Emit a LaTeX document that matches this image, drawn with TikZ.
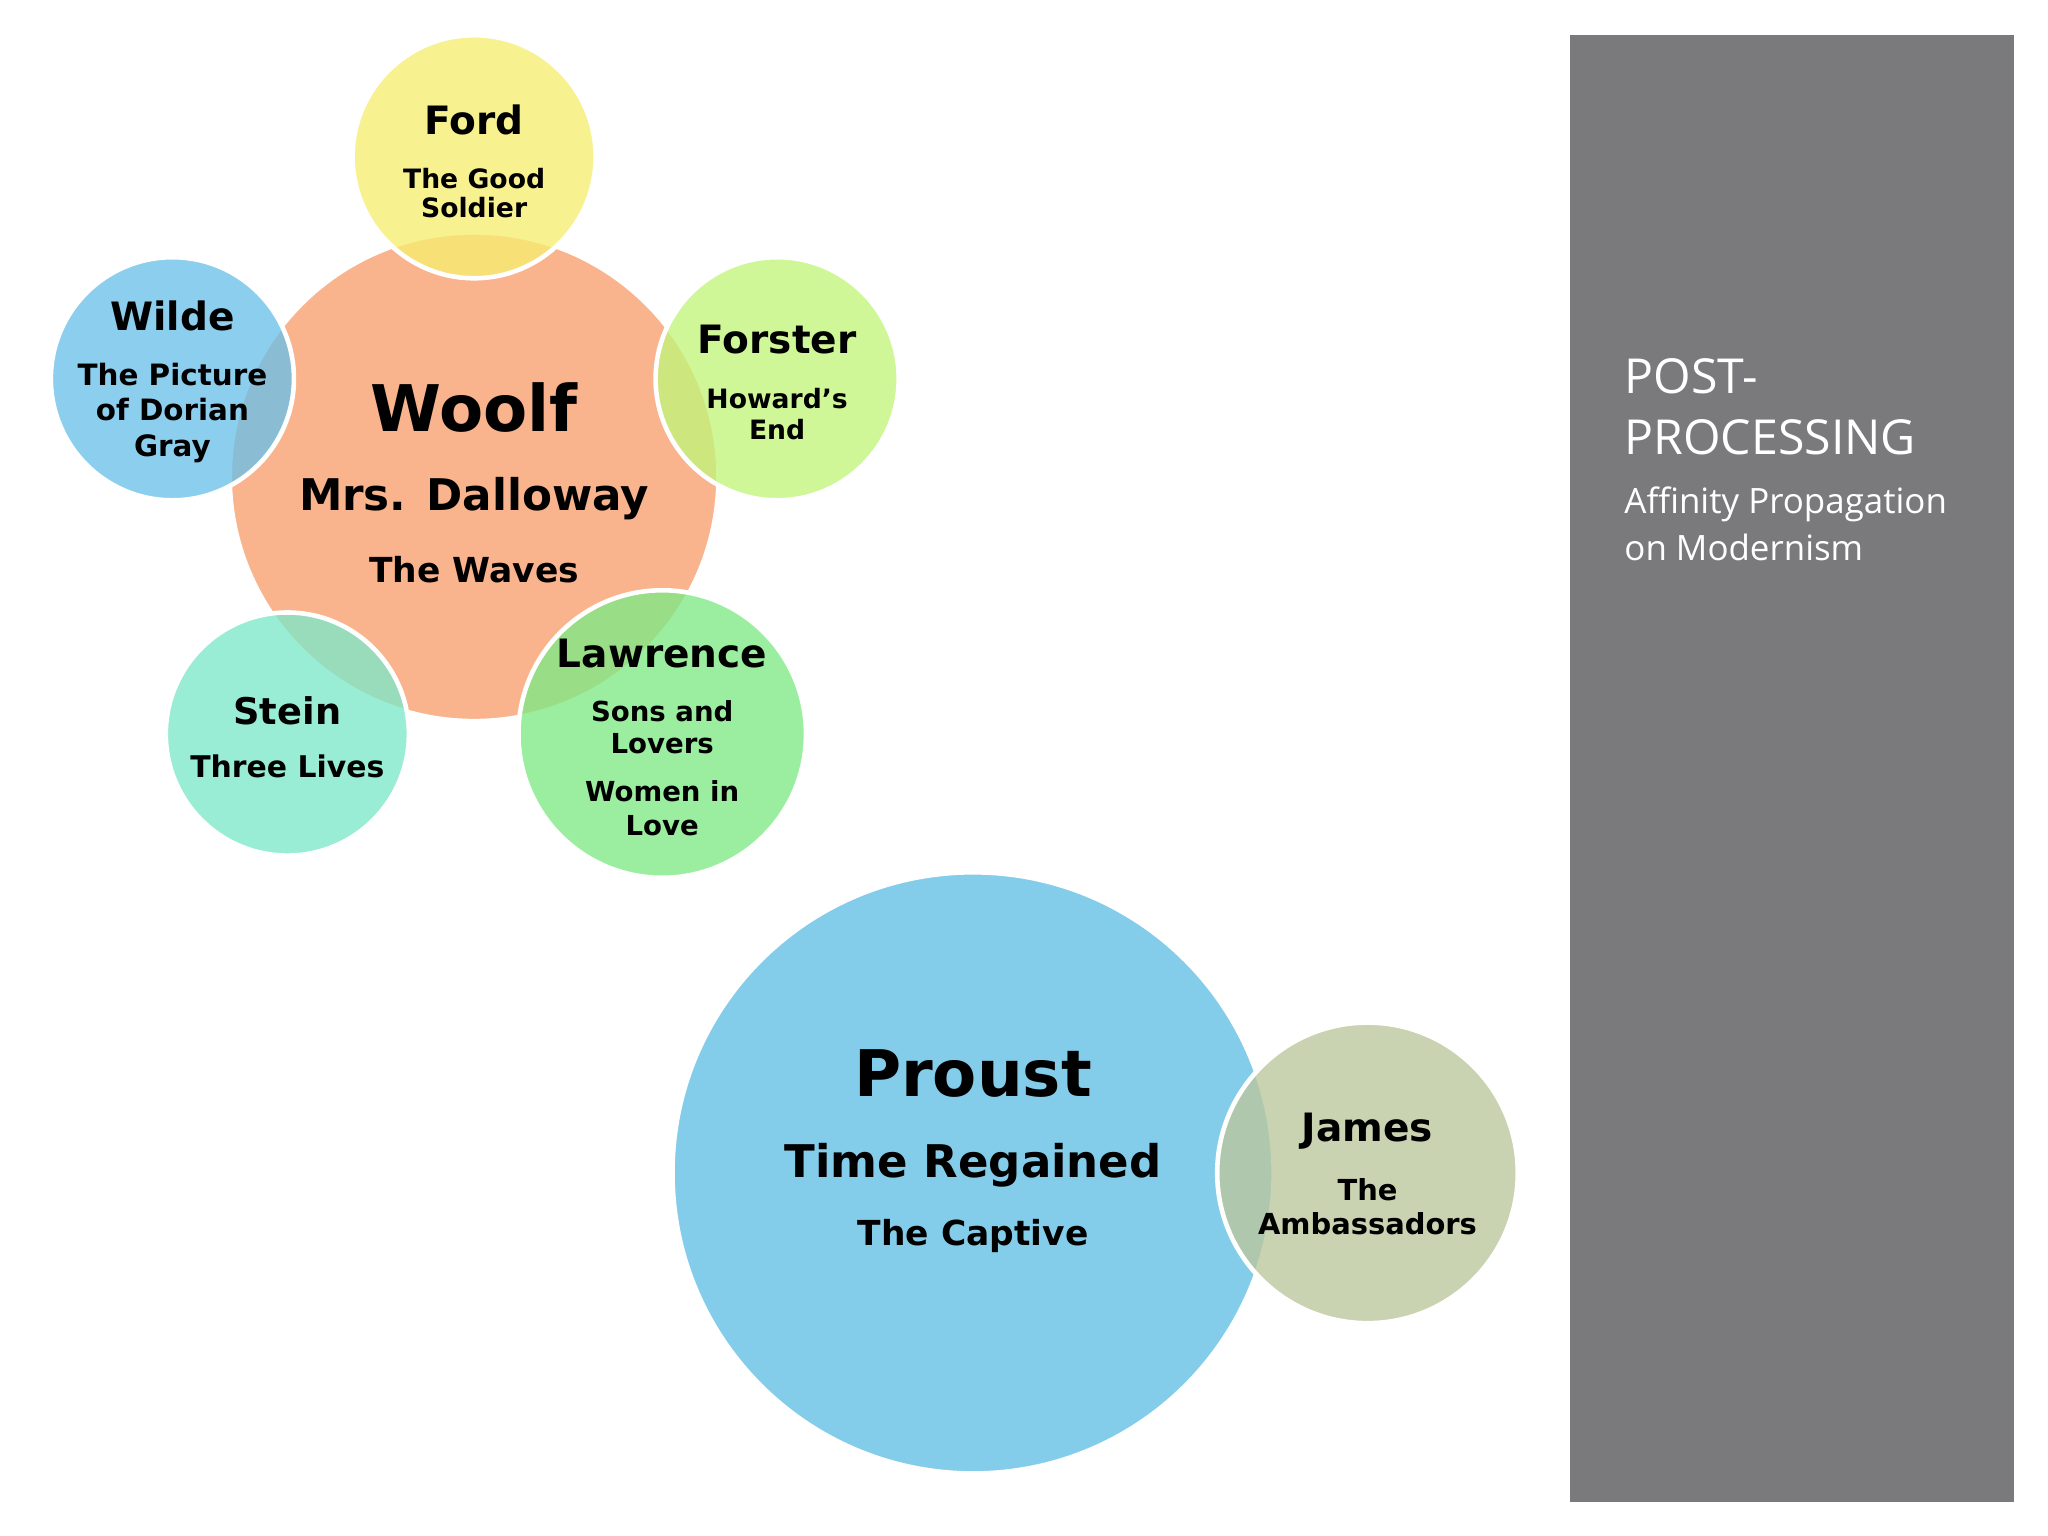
\documentclass[tikz,border=0pt]{standalone}
\usepackage{fontspec}
\setmainfont{DejaVu Sans}
\newfontfamily\panelfont{Open Sans}
\begin{document}
\begin{tikzpicture}[x=0.01cm,y=-0.01cm]
\definecolor{woolfc}{HTML}{F9B38D}
\definecolor{fordc}{HTML}{F7EE72}
\definecolor{wildec}{HTML}{6CC1E8}
\definecolor{forsterc}{HTML}{C2F57A}
\definecolor{steinc}{HTML}{7DE8C9}
\definecolor{lawrc}{HTML}{7FEA85}
\definecolor{proustc}{HTML}{84CDEA}
\definecolor{jamesc}{HTML}{BCC79C}
\definecolor{panelc}{HTML}{7A797B}
\tikzset{bub/.style={circle,draw=white,line width=1pt,fill opacity=0.78,text opacity=1,inner sep=0pt,align=center,font=\bfseries},
 big/.style={circle,draw=white,line width=1pt,inner sep=0pt,align=center,font=\bfseries}}
\useasboundingbox[fill=white] (0,0) rectangle (1568,1176);
\fill[panelc] (1202,27) rectangle (1542,1150);
\node[big,fill=woolfc,minimum size=3.74cm] (woolf) at (363,365) {};
\node[big,fill=proustc,minimum size=4.6cm] (proust) at (745,898) {};
\node[bub,fill=fordc,minimum size=1.86cm] (ford) at (363,120) {};
\node[bub,fill=wildec,minimum size=1.86cm] (wilde) at (132,290) {};
\node[bub,fill=forsterc,minimum size=1.86cm] (forster) at (595,290) {};
\node[bub,fill=steinc,minimum size=1.86cm] (stein) at (220,562) {};
\node[bub,fill=lawrc,minimum size=2.2cm] (lawr) at (507,562) {};
\node[bub,fill=jamesc,minimum size=2.3cm] (james) at (1047,898) {};
% texts
\node[font=\bfseries\fontsize{14}{17}\selectfont] (tw) at (363,312) {Woolf};
\node[font=\bfseries\fontsize{9.5}{11}\selectfont] (tw2) at (363,382) {Mrs. Dalloway};
\node[font=\bfseries\fontsize{7.5}{9}\selectfont] (tw3) at (363,436) {The Waves};
\node[font=\bfseries\fontsize{8.5}{10}\selectfont] (tf) at (363,92) {Ford};
\node[align=center,font=\bfseries\fontsize{5.8}{6.3}\selectfont] (tf2) at (363,148) {The Good\\Soldier};
\node[font=\bfseries\fontsize{8.5}{10}\selectfont] (twi) at (132,242) {Wilde};
\node[align=center,font=\bfseries\fontsize{6.4}{7.7}\selectfont] (twi2) at (132,316) {The Picture\\of Dorian\\Gray};
\node[font=\bfseries\fontsize{8.5}{10}\selectfont] (tfo) at (595,260) {Forster};
\node[align=center,font=\bfseries\fontsize{5.8}{6.8}\selectfont] (tfo2) at (595,317) {Howard’s\\End};
\node[font=\bfseries\fontsize{8}{10}\selectfont] (ts) at (220,544) {Stein};
\node[font=\bfseries\fontsize{6.5}{8}\selectfont] (ts2) at (220,587) {Three Lives};
\node[font=\bfseries\fontsize{8.5}{10}\selectfont] (tl) at (507,500) {Lawrence};
\node[align=center,font=\bfseries\fontsize{6}{6.9}\selectfont] (tl2) at (507,557) {Sons and\\Lovers};
\node[align=center,font=\bfseries\fontsize{6}{7.4}\selectfont] (tl3) at (507,619) {Women in\\Love};
\node[font=\bfseries\fontsize{14}{17}\selectfont] (tp) at (745,822) {Proust};
\node[font=\bfseries\fontsize{9.8}{12}\selectfont] (tp2) at (745,892) {Time Regained};
\node[font=\bfseries\fontsize{7.5}{9}\selectfont] (tp3) at (745,946) {The Captive};
\node[font=\bfseries\fontsize{8.5}{10}\selectfont] (tj) at (1047,866) {James};
\node[align=center,font=\bfseries\fontsize{6.3}{7.5}\selectfont] (tj2) at (1047,924) {The\\Ambassadors};
\node[anchor=north west,align=left,text=white,inner sep=0pt,font=\panelfont\fontsize{10.5}{13.3}\selectfont] (ttl) at (1243,274) {POST-\\PROCESSING};
\node[anchor=north west,align=left,text=white,inner sep=0pt,font=\panelfont\fontsize{7.6}{10.3}\selectfont] (sub) at (1243,372) {Affinity Propagation\\on Modernism};
\end{tikzpicture}
\end{document}
